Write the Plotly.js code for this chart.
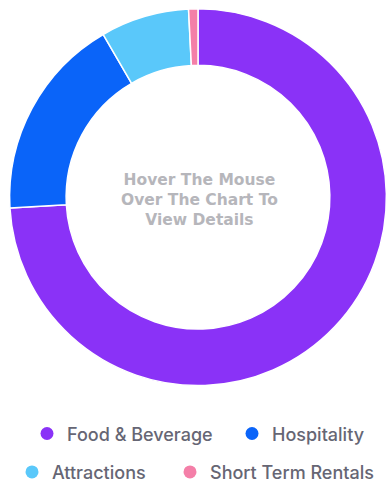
<!DOCTYPE html>
<html>
<head>
<meta charset="utf-8">
<script src="https://cdn.plot.ly/plotly-3.0.1.min.js"></script>
<style>html,body{margin:0;padding:0;background:#fff;}#chart{width:390px;height:491px;}</style>
</head>
<body>
<div id="chart"></div>
<script>
const categories = ["Food & Beverage", "Hospitality", "Attractions", "Short Term Rentals"];
const shares = [74.1, 17.5, 7.6, 0.8];
const colors = ["#8a32f7", "#0a64f9", "#5ac8fa", "#f47fa8"];
const centerText = "Hover The Mouse<br>Over The Chart To<br>View Details";

const W = 390, H = 491;
const legendNames = ["legend", "legend2", "legend3", "legend4"];
const legendMarkerX = [46, 251, 31, 189];
const legendRowY = [441, 441, 480, 480];
const LEG_OFFSET = 19; // px from legend left edge to marker centre

const traces = [{
  type: "pie",
  labels: categories,
  values: shares,
  sort: false,
  direction: "clockwise",
  rotation: 0,
  hole: 0.70,
  textinfo: "none",
  showlegend: false,
  marker: {colors: colors, line: {color: "#ffffff", width: 1.5}},
  domain: {x: [6.5 / W, 389.5 / W], y: [(H - 392) / H, (H - 9) / H]}
}];
categories.forEach((c, i) => {
  traces.push({
    type: "scatter", mode: "markers", x: [null], y: [null], name: c,
    marker: {color: colors[i], size: 13, symbol: "circle"},
    legend: legendNames[i], hoverinfo: "skip"
  });
});
const legendFont = {family: "Inter, 'DejaVu Sans', sans-serif", size: 18, weight: 500, color: "#666674"};
const layout = {
  width: W, height: H,
  margin: {l: 0, r: 0, t: 0, b: 0},
  paper_bgcolor: "#ffffff", plot_bgcolor: "#ffffff",
  xaxis: {visible: false}, yaxis: {visible: false},
  annotations: [{
    text: centerText, showarrow: false, xref: "paper", yref: "paper",
    x: 200 / W, y: (H - 203) / H, xanchor: "center", yanchor: "middle",
    font: {family: "'DejaVu Sans', sans-serif", size: 15.5, weight: "bold", color: "#b6b6bb"}
  }]
};
legendNames.forEach((ln, i) => {
  layout[ln] = {
    orientation: "h", x: (legendMarkerX[i] - LEG_OFFSET) / W, xanchor: "left",
    y: (H - legendRowY[i]) / H, yanchor: "middle", font: legendFont,
    itemwidth: 30, bgcolor: "rgba(0,0,0,0)"
  };
});
Plotly.newPlot("chart", traces, layout, {displayModeBar: false, staticPlot: true});
</script>
</body>
</html>
